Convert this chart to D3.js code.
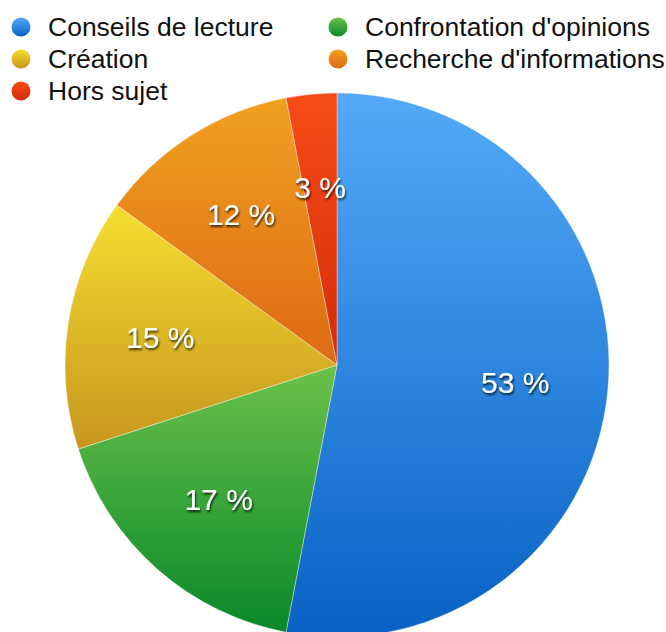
<!DOCTYPE html>
<html>
<head>
<meta charset="utf-8">
<script src="https://cdn.jsdelivr.net/npm/d3@7"></script>
<style>
  body { margin: 0; background: #fff; }
  svg { display: block; font-family: Helvetica, "Liberation Sans", Arial, sans-serif; }
</style>
</head>
<body>
<div id="chart"></div>
<script>
// data
const categories = ["Conseils de lecture", "Confrontation d'opinions", "Création", "Recherche d'informations", "Hors sujet"];
const values = [53, 17, 15, 12, 3];
const labels = ["53 %", "17 %", "15 %", "12 %", "3 %"];
const topColors = ["#54aaf8", "#6cc24a", "#f6de30", "#f0a020", "#f84c16"];
const bottomColors = ["#0862c4", "#08882a", "#c6961e", "#de6a14", "#d22c0a"];

const width = 666, height = 632;
const cx = 337, cy = 365, radius = 272;

const svg = d3.select("#chart").append("svg")
    .attr("width", width)
    .attr("height", height);

const defs = svg.append("defs");
categories.forEach((c, i) => {
    const g = defs.append("linearGradient")
        .attr("id", "grad" + i)
        .attr("x1", 0).attr("y1", 0).attr("x2", 0).attr("y2", 1);
    g.append("stop").attr("offset", "0%").attr("stop-color", topColors[i]);
    g.append("stop").attr("offset", "100%").attr("stop-color", bottomColors[i]);
});

const shadow = defs.append("filter").attr("id", "shadow")
    .attr("x", "-20%").attr("y", "-20%").attr("width", "140%").attr("height", "160%");
shadow.append("feDropShadow")
    .attr("dx", 1).attr("dy", 2).attr("stdDeviation", 1.2)
    .attr("flood-color", "#000").attr("flood-opacity", 0.75);

const pie = d3.pie().sort(null).value(d => d)(values);
const arc = d3.arc().innerRadius(0).outerRadius(radius);
const labelArc = d3.arc().innerRadius(179).outerRadius(179);

const g = svg.append("g").attr("transform", "translate(" + cx + "," + cy + ")");

g.selectAll("path")
    .data(pie)
    .enter()
    .append("path")
    .attr("d", arc)
    .attr("fill", (d, i) => "url(#grad" + i + ")")
    .attr("stroke", "rgba(255,255,255,0.45)")
    .attr("stroke-width", 0.8);

g.selectAll("text.lbl")
    .data(pie)
    .enter()
    .append("text")
    .attr("class", "lbl")
    .attr("transform", d => "translate(" + labelArc.centroid(d) + ")")
    .attr("text-anchor", "middle")
    .attr("dy", "0.36em")
    .attr("fill", "#fff")
    .attr("font-size", 30)
    .attr("filter", "url(#shadow)")
    .text((d, i) => labels[i]);

// legend
const legendPos = [[21, 27], [338, 27], [21, 59], [338, 59], [21, 91]];
const legend = svg.append("g").selectAll("g")
    .data(categories)
    .enter()
    .append("g")
    .attr("transform", (d, i) => "translate(" + legendPos[i][0] + "," + legendPos[i][1] + ")");

legend.append("circle")
    .attr("r", 9.5)
    .attr("fill", (d, i) => "url(#grad" + i + ")");

legend.append("text")
    .attr("x", 27)
    .attr("y", 9)
    .attr("font-size", 26.5)
    .attr("fill", "#111")
    .text(d => d);
</script>
</body>
</html>
